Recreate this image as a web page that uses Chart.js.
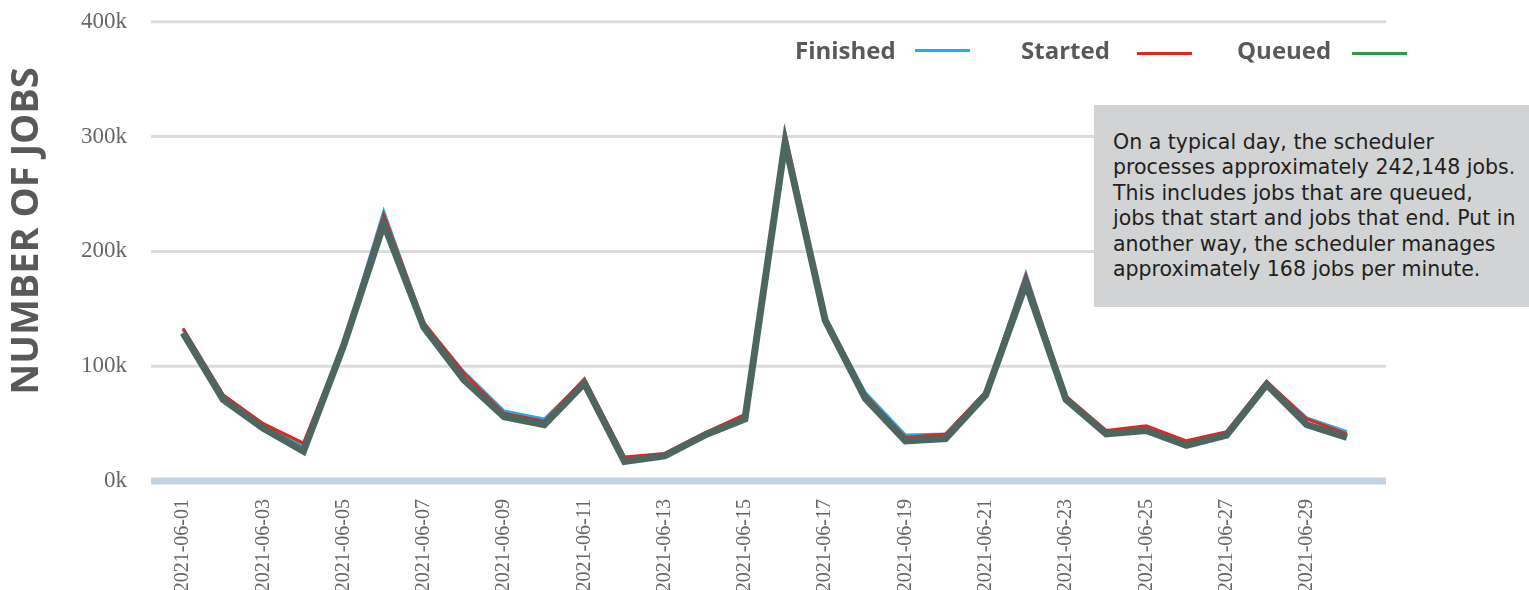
<!DOCTYPE html>
<html>
<head>
<meta charset="utf-8">
<title>Scheduler jobs</title>
<script src="https://cdn.jsdelivr.net/npm/chart.js@4/dist/chart.umd.min.js"></script>
<style>
	html, body { margin: 0; padding: 0; background: #ffffff; }
	.chart-wrap { position: relative; width: 1529px; height: 590px; overflow: hidden; }
	/* chart.js keeps a fixed top margin, so the canvas is pulled up to line the 400k line up */
	.canvas-box { position: absolute; left: 0; top: -28px; width: 1529px; height: 618px; }
	.canvas-box canvas { display: block; }
	.chart-legend .text { position: absolute; top: 34px; white-space: nowrap; font: 700 24px 'Open Sans', sans-serif; color: #58595b; line-height: 32px; }
	.chart-legend .swatch { position: absolute; width: 55px; height: 3px; }
	.chart-note { position: absolute; left: 1094px; top: 105px; width: 435px; height: 202px; box-sizing: border-box; padding: 25px 0 0 19px; background: #d1d3d4; color: #231f20; font: 20.5px 'DejaVu Sans', sans-serif; line-height: 25.4px; white-space: nowrap; }
</style>
</head>
<body>
<div class="chart-wrap">
	<div class="canvas-box"><canvas id="jobsChart"></canvas></div>
	<div class="chart-legend" id="jobsLegend"></div>
	<div class="chart-note">
		On a typical day, the scheduler<br>
		processes approximately 242,148 jobs.<br>
		This includes jobs that are queued,<br>
		jobs that start and jobs that end. Put in<br>
		another way, the scheduler manages<br>
		approximately 168 jobs per minute.
	</div>
</div>
<script>
	'use strict';

	const days = [
		'2021-06-01', '2021-06-02', '2021-06-03', '2021-06-04', '2021-06-05', '2021-06-06',
		'2021-06-07', '2021-06-08', '2021-06-09', '2021-06-10', '2021-06-11', '2021-06-12',
		'2021-06-13', '2021-06-14', '2021-06-15', '2021-06-16', '2021-06-17', '2021-06-18',
		'2021-06-19', '2021-06-20', '2021-06-21', '2021-06-22', '2021-06-23', '2021-06-24',
		'2021-06-25', '2021-06-26', '2021-06-27', '2021-06-28', '2021-06-29', '2021-06-30'
	];
	const finished = [132000, 75000, 49000, 31000, 120000, 235000, 137000, 95000, 61000, 54000, 88000, 20000, 23000, 41000, 57000, 300000, 142000, 77000, 40000, 41000, 77000, 181000, 73000, 43000, 47000, 34000, 42000, 86000, 55000, 43000];
	const started = [133000, 75000, 50000, 33000, 120000, 232000, 138000, 94000, 59000, 52000, 89000, 21000, 24000, 42000, 58000, 303000, 143000, 75000, 38000, 41000, 78000, 179000, 74000, 44000, 48000, 35000, 43000, 87000, 54000, 41000];
	const queued = [129000, 71000, 46000, 26000, 118000, 224000, 134000, 88000, 56000, 49000, 85000, 17000, 22000, 40000, 54000, 295000, 140000, 72000, 35000, 37000, 75000, 172000, 71000, 41000, 44000, 31000, 40000, 84000, 49000, 38000];
	const yTicks = [0, 100000, 200000, 300000, 400000];

	const seriesNames = ['Finished', 'Started', 'Queued'];
	const seriesColors = ['#1ab2ec', '#e3261f', '#2e9a44'];

	// legend placement: text left, swatch left, swatch top
	const legendSlots = [
		[795, 915, 50],
		[1021, 1137, 53],
		[1237, 1352, 53]
	];

	// horizontal grid lines run a bit wider than the plotted points
	const gridLinesPlugin = {
		id: 'gridLines',
		beforeDatasetsDraw(chart) {
			const ctx = chart.ctx;
			const y = chart.scales.y;
			const left = chart.chartArea.left - 12;
			const right = chart.chartArea.right + 19;
			ctx.save();
			yTicks.forEach(function (value) {
				const py = y.getPixelForValue(value);
				ctx.beginPath();
				ctx.lineWidth = value === 0 ? 7 : 3;
				ctx.strokeStyle = value === 0 ? '#c3d1e1' : '#dcdcdc';
				ctx.moveTo(left, py);
				ctx.lineTo(right, py);
				ctx.stroke();
			});
			ctx.restore();
		}
	};

	const axisTitlePlugin = {
		id: 'axisTitle',
		afterDraw(chart) {
			const ctx = chart.ctx;
			ctx.save();
			ctx.translate(27, 259);
			ctx.rotate(-Math.PI / 2);
			ctx.font = '700 38px "Open Sans", sans-serif';
			ctx.fillStyle = '#58595b';
			ctx.textAlign = 'center';
			ctx.textBaseline = 'middle';
			ctx.fillText('NUMBER OF JOBS', 0, 0);
			ctx.restore();
		}
	};

	const handleLegend = function () {
		const legend = document.getElementById('jobsLegend');
		let html = '';
		seriesNames.forEach(function (name, idx) {
			const slot = legendSlots[idx];
			html += `<div class="text" style="left:${ slot[0] }px">${ name }</div>`;
			html += `<div class="swatch" style="left:${ slot[1] }px;top:${ slot[2] - 1.5 }px;background:${ seriesColors[idx] }"></div>`;
		});
		legend.innerHTML = html;
	};

	const handleChart = function () {
		const ctx = document.getElementById('jobsChart').getContext('2d');

		new Chart(ctx, {
			type: 'line',
			data: {
				labels: days,
				datasets: [
					{
						label: 'Queued',
						data: queued,
						borderColor: '#4e6660',
						borderWidth: 7,
						order: 0
					},
					{
						label: 'Started',
						data: started,
						borderColor: '#e3261f',
						borderWidth: 3,
						order: 1
					},
					{
						label: 'Finished',
						data: finished,
						borderColor: '#1ab2ec',
						borderWidth: 3,
						order: 2
					}
				]
			},
			options: {
				responsive: true,
				maintainAspectRatio: false,
				animation: false,
				elements: {
					point: { radius: 0, hoverRadius: 0 },
					line: { tension: 0, borderJoinStyle: 'miter' }
				},
				layout: {
					autoPadding: false,
					padding: { top: 19.5, right: 162, left: 0, bottom: 0 }
				},
				plugins: {
					legend: { display: false },
					tooltip: { enabled: false }
				},
				scales: {
					x: {
						offset: true,
						grid: { display: false, drawTicks: false, offset: true },
						border: { display: false },
						afterFit: function (scale) { scale.height = 109; },
						ticks: {
							autoSkip: false,
							maxRotation: 90,
							minRotation: 90,
							padding: 18,
							color: '#666666',
							font: { family: '"Liberation Serif", serif', size: 20 },
							callback: function (value, idx) {
								return idx % 2 === 0 ? days[idx] : '';
							}
						}
					},
					y: {
						min: 0,
						max: 400000,
						grid: { display: false, drawTicks: false },
						border: { display: false },
						afterFit: function (scale) { scale.width = 163; },
						afterBuildTicks: function (scale) {
							scale.ticks = yTicks.map(function (v) { return { value: v }; });
						},
						ticks: {
							padding: 36,
							color: '#666666',
							font: { family: '"Liberation Serif", serif', size: 23 },
							callback: function (value) {
								return (value / 1000) + 'k';
							}
						}
					}
				}
			},
			plugins: [gridLinesPlugin, axisTitlePlugin]
		});
	};

	handleLegend();
	handleChart();
</script>
</body>
</html>
